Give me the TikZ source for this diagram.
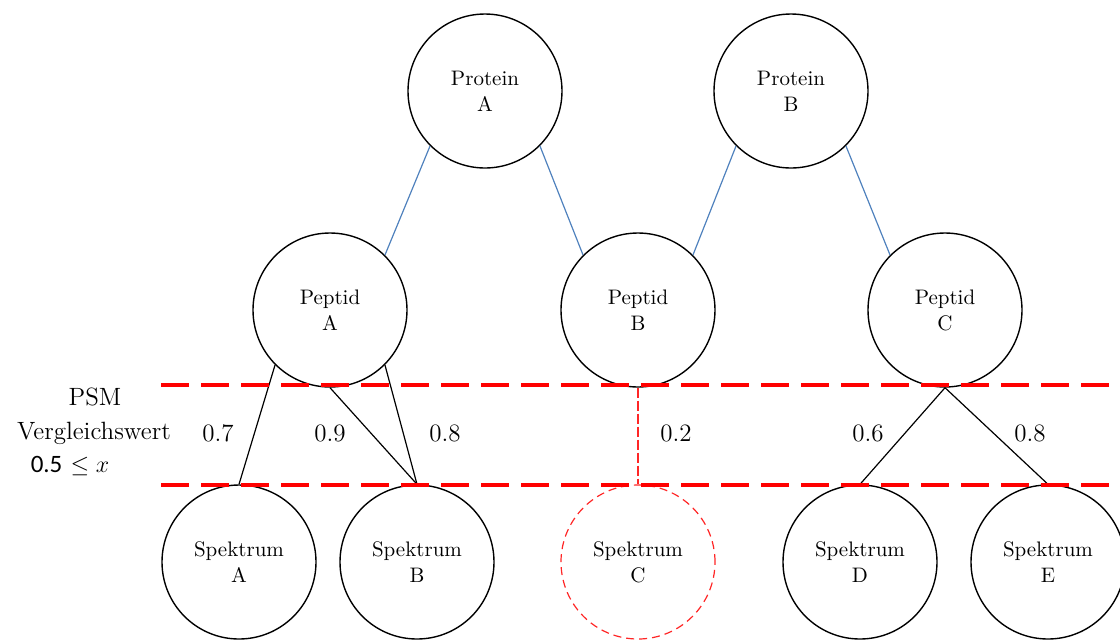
\documentclass[tikz,border=0pt]{standalone}
\usepackage{fontspec}
\newfontfamily\carlito{Carlito}
\definecolor{edgeblue}{RGB}{79,129,189}
\definecolor{psmred}{RGB}{255,0,0}
\begin{document}
\begin{tikzpicture}[x=0.5pt,y=-0.5pt,
  circ/.style={circle,draw=black,line width=0.7pt,minimum size=77pt,inner sep=0pt,align=center,fill=white,
    font=\fontsize{10.5}{13}\selectfont},
  rejected/.style={circ,draw=psmred!85,dash pattern=on 4pt off 2.5pt,line width=0.6pt},
  blueedge/.style={draw=edgeblue,line width=0.6pt},
  psmedge/.style={draw=black,line width=0.6pt},
  rejedge/.style={draw=psmred!85,line width=0.6pt,dash pattern=on 5pt off 1.5pt},
  threshold/.style={draw=psmred,line width=2pt,dash pattern=on 14pt off 6pt},
  lbl/.style={font=\fontsize{12.5}{15}\selectfont,inner sep=0pt}
]
\useasboundingbox (0,0) rectangle (1120,639);

% nodes
\node[circ] (protA) at (485,91) {Protein\\A};
\node[circ] (protB) at (791,91) {Protein\\B};
\node[circ] (pepA) at (330,310) {Peptid\\A};
\node[circ] (pepB) at (638,310) {Peptid\\B};
\node[circ] (pepC) at (945,310) {Peptid\\C};
\node[circ] (specA) at (239,562) {Spektrum\\A};
\node[circ] (specB) at (417,562) {Spektrum\\B};
\node[rejected] (specC) at (638,562) {Spektrum\\C};
\node[circ] (specD) at (860,562) {Spektrum\\D};
\node[circ] (specE) at (1048,562) {Spektrum\\E};

% protein-peptide edges
\draw[blueedge] (protA.south west) -- (pepA.north east);
\draw[blueedge] (protA.south east) -- (pepB.north west);
\draw[blueedge] (protB.south west) -- (pepB.north east);
\draw[blueedge] (protB.south east) -- (pepC.north west);

% peptide-spectrum edges
\draw[psmedge] (pepA.south west) -- (specA.north);
\draw[psmedge] (pepA.south) -- (specB.north);
\draw[psmedge] (pepA.south east) -- (specB.north);
\draw[rejedge] (pepB.south) -- (specC.north);
\draw[psmedge] (pepC.south) -- (specD.north);
\draw[psmedge] (pepC.south) -- (specE.north);

% threshold lines
\coordinate (t1l) at (161,385);
\coordinate (t1r) at (1120,385);
\coordinate (t2l) at (161,485);
\coordinate (t2r) at (1120,485);
\draw[threshold] (t1l) -- (t1r);
\draw[threshold] (t2l) -- (t2r);

% labels
\node[lbl] (psm) at (95,397) {PSM};
\node[lbl] (vgl) at (94,433) {Vergleichswert};
\node[lbl] (cond) at (70,466) {{\carlito 0.5} $\leq x$};
\node[lbl] (s1) at (218,433) {0.7};
\node[lbl] (s2) at (330,433) {0.9};
\node[lbl] (s3) at (445,433) {0.8};
\node[lbl] (s4) at (676,433) {0.2};
\node[lbl] (s5) at (868,433) {0.6};
\node[lbl] (s6) at (1030,433) {0.8};
\end{tikzpicture}
\end{document}
